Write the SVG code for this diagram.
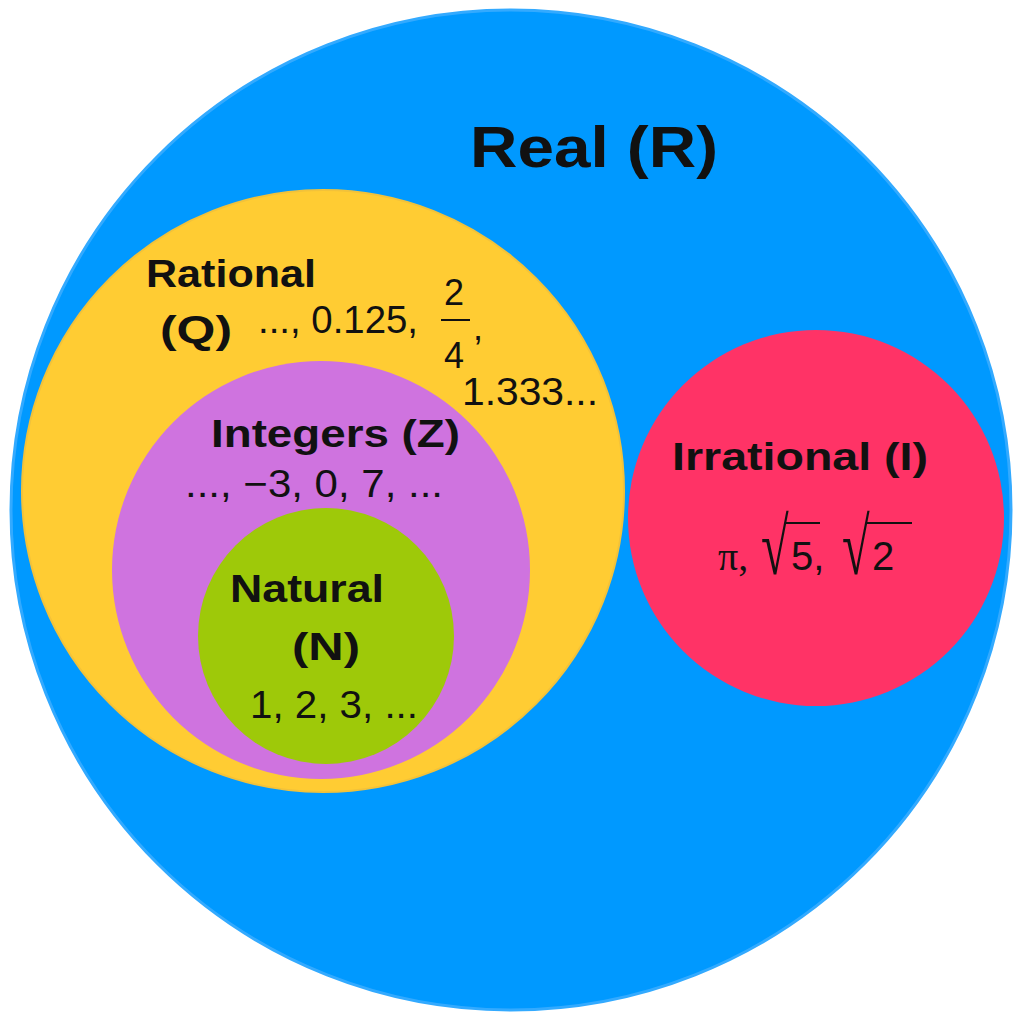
<svg xmlns="http://www.w3.org/2000/svg" width="1023" height="1018" viewBox="0 0 1023 1018">
<style>
.lbl{font-family:"Liberation Sans","DejaVu Sans",sans-serif;font-weight:bold;fill:#111}
.num{font-family:"Liberation Sans","DejaVu Sans",sans-serif;font-weight:normal;fill:#111}
.mth{font-family:"Liberation Serif","DejaVu Serif",serif;fill:#111}
</style>
<rect width="1023" height="1018" fill="#ffffff"/>
<g id="real">
<circle cx="511" cy="510" r="500" fill="#0099ff" stroke="#33aaff" stroke-width="3"/>
<text class="lbl" x="470" y="167" font-size="58" textLength="248" lengthAdjust="spacingAndGlyphs">Real (R)</text>
</g>
<g id="rational">
<circle cx="323" cy="491" r="301" fill="#ffcc33" stroke="#f2c23a" stroke-width="2"/>
<text class="lbl" x="146" y="287" font-size="38" textLength="170" lengthAdjust="spacingAndGlyphs">Rational</text>
<text class="lbl" x="160" y="343" font-size="38" textLength="72" lengthAdjust="spacingAndGlyphs">(Q)</text>
<text class="num" x="258" y="333" font-size="38" textLength="160" lengthAdjust="spacingAndGlyphs">..., 0.125,</text>
<text class="num" x="444" y="305" font-size="36">2</text>
<line x1="441" y1="320" x2="470" y2="320" stroke="#111" stroke-width="2"/>
<text class="num" x="444" y="368" font-size="36">4</text>
<text class="num" x="473" y="340" font-size="36">,</text>
<text class="num" x="462" y="405" font-size="38" textLength="136" lengthAdjust="spacingAndGlyphs">1.333...</text>
</g>
<g id="integers">
<circle cx="321" cy="570" r="209" fill="#cf73df"/>
<text class="lbl" x="211" y="447" font-size="38" textLength="249" lengthAdjust="spacingAndGlyphs">Integers (Z)</text>
<text class="num" x="185" y="497" font-size="38" textLength="258" lengthAdjust="spacingAndGlyphs">..., −3, 0, 7, ...</text>
</g>
<g id="natural">
<circle cx="326" cy="636" r="128" fill="#9ec909"/>
<text class="lbl" x="230" y="602" font-size="38" textLength="154" lengthAdjust="spacingAndGlyphs">Natural</text>
<text class="lbl" x="292" y="660" font-size="38" textLength="68" lengthAdjust="spacingAndGlyphs">(N)</text>
<text class="num" x="250" y="718" font-size="38" textLength="168" lengthAdjust="spacingAndGlyphs">1, 2, 3, ...</text>
</g>
<g id="irrational">
<circle cx="816" cy="518" r="188" fill="#ff3366"/>
<text class="lbl" x="672" y="470" font-size="38" textLength="256" lengthAdjust="spacingAndGlyphs">Irrational (I)</text>
<text class="mth" x="718" y="570" font-size="40">π,</text>
<text class="mth" transform="translate(761,574) scale(1.2,1.9)" font-size="42">√</text>
<line x1="786" y1="523" x2="820" y2="523" stroke="#111" stroke-width="2"/>
<text class="num" x="791" y="570" font-size="40">5,</text>
<text class="mth" transform="translate(842,574) scale(1.2,1.9)" font-size="42">√</text>
<line x1="867" y1="523" x2="912" y2="523" stroke="#111" stroke-width="2"/>
<text class="num" x="872" y="570" font-size="40">2</text>
</g>
<g id="connectors"/>
</svg>
